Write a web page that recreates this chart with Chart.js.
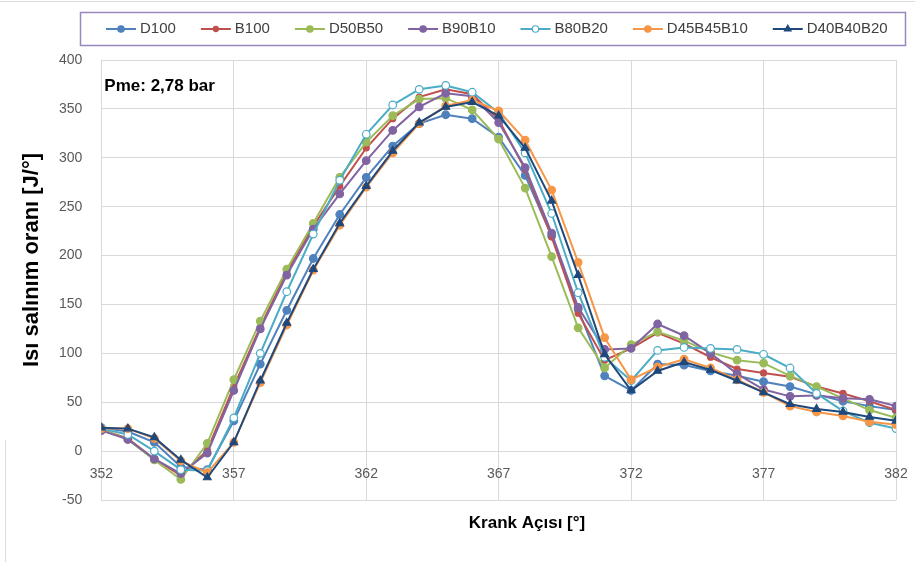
<!DOCTYPE html>
<html lang="tr">
<head>
<meta charset="utf-8">
<title>Isı salınım oranı</title>
<script src="https://cdn.jsdelivr.net/npm/chart.js@4.4.1/dist/chart.umd.min.js"></script>
<style>
html, body { margin: 0; padding: 0; background: #fff; }
#box { position: relative; width: 915px; height: 562px; }
</style>
</head>
<body>
<div id="box"><canvas id="hrr" width="915" height="562"></canvas></div>
<script>
// krank açısı [°]
const crankAngle = [352, 353, 354, 355, 356, 357, 358, 359, 360, 361, 362, 363, 364, 365, 366, 367,
	368, 369, 370, 371, 372, 373, 374, 375, 376, 377, 378, 379, 380, 381, 382];
const xTicks = [352, 357, 362, 367, 372, 377, 382];

// ısı salınım oranı [J/°]
const d100 = [24, 20, 9, -16, -19, 31, 89, 144, 197, 242, 280, 312, 335, 344, 340, 321,
	282, 220, 145, 77, 62, 89, 88, 82, 77, 71, 66, 58, 51, 46, 42];
const b100 = [22, 13, -8, -25, 1, 66, 127, 183, 230, 271, 310, 340, 362, 370, 365, 339,
	288, 219, 141, 93, 105, 121, 110, 96, 84, 80, 76, 66, 59, 51, 42];
const d50b50 = [22, 12, -9, -29, 8, 73, 133, 186, 233, 280, 316, 343, 360, 361, 349, 319,
	269, 199, 126, 85, 109, 122, 113, 101, 93, 90, 77, 66, 54, 42, 34];
const b90b10 = [21, 12, -8, -23, -2, 62, 125, 180, 227, 263, 297, 328, 352, 366, 363, 336,
	290, 223, 147, 104, 105, 130, 118, 100, 79, 63, 56, 57, 54, 53, 46];
const b80b20 = [23, 17, 0, -19, -20, 34, 100, 163, 222, 277, 324, 354, 370, 374, 367, 346,
	305, 243, 162, 96, 72, 103, 106, 105, 104, 99, 85, 59, 41, 29, 23];
const d45b45b10 = [23, 23, 13, -10, -22, 9, 70, 129, 185, 231, 270, 305, 335, 353, 359, 348,
	318, 267, 193, 116, 73, 86, 94, 85, 73, 60, 46, 40, 36, 30, 27];
const d40b40b20 = [24, 23, 14, -9, -27, 9, 72, 131, 186, 233, 271, 307, 336, 352, 357, 343,
	310, 256, 180, 99, 62, 82, 91, 83, 72, 60, 48, 43, 40, 35, 31];

const FONT = '"Liberation Sans", Arial, sans-serif';
Chart.defaults.font.family = FONT;
Chart.defaults.color = '#595959';

function series(label, values, color, style, radius, fill) {
	return {
		label: label,
		data: values.map((v, i) => ({x: crankAngle[i], y: v})),
		borderColor: color,
		backgroundColor: fill || color,
		pointBackgroundColor: fill || color,
		pointBorderColor: color,
		pointStyle: style,
		pointRadius: radius,
		pointBorderWidth: 1.2,
		borderWidth: 2,
		tension: 0
	};
}

const datasets = [
	series('D100', d100, '#4F81BD', 'circle', 3.8),
	series('B100', b100, '#C0504D', 'circle', 3),
	series('D50B50', d50b50, '#9BBB59', 'circle', 3.8),
	series('B90B10', b90b10, '#8064A2', 'circle', 3.8),
	series('B80B20', b80b20, '#4BACC6', 'circle', 3.8, '#ffffff'),
	series('D45B45B10', d45b45b10, '#F79646', 'circle', 3.8),
	series('D40B40B20', d40b40b20, '#1F497D', 'triangle', 4.5)
];
// son seri en üstte çizilsin
datasets.forEach((ds, i) => { ds.order = datasets.length - i; });

// çerçeveli lejant, eksen başlıkları ve Pme etiketi
const boxLegend = {
	id: 'boxLegend',
	beforeDraw(chart) {
		const ctx = chart.ctx;
		ctx.save();
		ctx.fillStyle = '#fff';
		ctx.fillRect(0, 0, chart.width, chart.height);
		ctx.strokeStyle = '#dcdcdc';
		ctx.lineWidth = 1;
		ctx.beginPath();
		ctx.moveTo(0, 1.5);
		ctx.lineTo(chart.width, 1.5);
		ctx.moveTo(5.5, 440);
		ctx.lineTo(5.5, chart.height);
		ctx.stroke();
		ctx.restore();
	},
	afterDraw(chart) {
		const ctx = chart.ctx;
		ctx.save();
		ctx.strokeStyle = '#9a87bd';
		ctx.lineWidth = 1.5;
		ctx.strokeRect(80.5, 12.5, 825, 33);

		ctx.font = '15px ' + FONT;
		ctx.textBaseline = 'middle';
		const y = 29;
		let x = 106;
		chart.data.datasets.forEach(ds => {
			ctx.strokeStyle = ds.borderColor;
			ctx.lineWidth = 2;
			ctx.beginPath();
			ctx.moveTo(x, y);
			ctx.lineTo(x + 30, y);
			ctx.stroke();
			ctx.fillStyle = ds.pointBackgroundColor;
			ctx.lineWidth = 1.2;
			Chart.helpers.drawPoint(ctx, {pointStyle: ds.pointStyle, radius: ds.pointRadius * 0.85, borderWidth: 1.2}, x + 15, y);
			ctx.fillStyle = '#404040';
			ctx.fillText(ds.label, x + 34, y);
			x += 34 + ctx.measureText(ds.label).width + 25;
		});

		ctx.fillStyle = '#000';
		ctx.font = 'bold 17px ' + FONT;
		ctx.fillText('Pme: 2,78 bar', chart.chartArea.left + 3, 86);

		// eksen başlıkları
		ctx.textAlign = 'center';
		ctx.fillText('Krank Açısı [°]', 527, 523);
		ctx.translate(32, 260);
		ctx.rotate(-Math.PI / 2);
		ctx.font = 'bold 22px ' + FONT;
		ctx.fillText('Isı salınım oranı [J/°]', 0, 0);
		ctx.restore();
	}
};

new Chart(document.getElementById('hrr'), {
	type: 'line',
	data: {datasets: datasets},
	plugins: [boxLegend],
	options: {
		responsive: false,
		animation: false,
		layout: {padding: {top: 60, left: 40, right: 19, bottom: 62}},
		plugins: {
			legend: {display: false},
			tooltip: {enabled: false}
		},
		scales: {
			x: {
				type: 'linear',
				min: 352,
				max: 382,
				position: {y: 0},
				afterBuildTicks: function(scale) {
					scale.ticks = xTicks.map(v => ({value: v}));
				},
				ticks: {padding: 2, color: '#595959', font: {size: 14}},
				grid: {color: '#d9d9d9', drawTicks: true, tickLength: 13, tickColor: 'rgba(0,0,0,0)'},
				border: {color: '#d9d9d9'}
			},
			y: {
				min: -50,
				max: 400,
				ticks: {stepSize: 50, padding: 19, color: '#595959', font: {size: 14}},
				grid: {color: '#d9d9d9', drawTicks: false},
				border: {display: false}
			}
		}
	}
});
</script>
</body>
</html>
